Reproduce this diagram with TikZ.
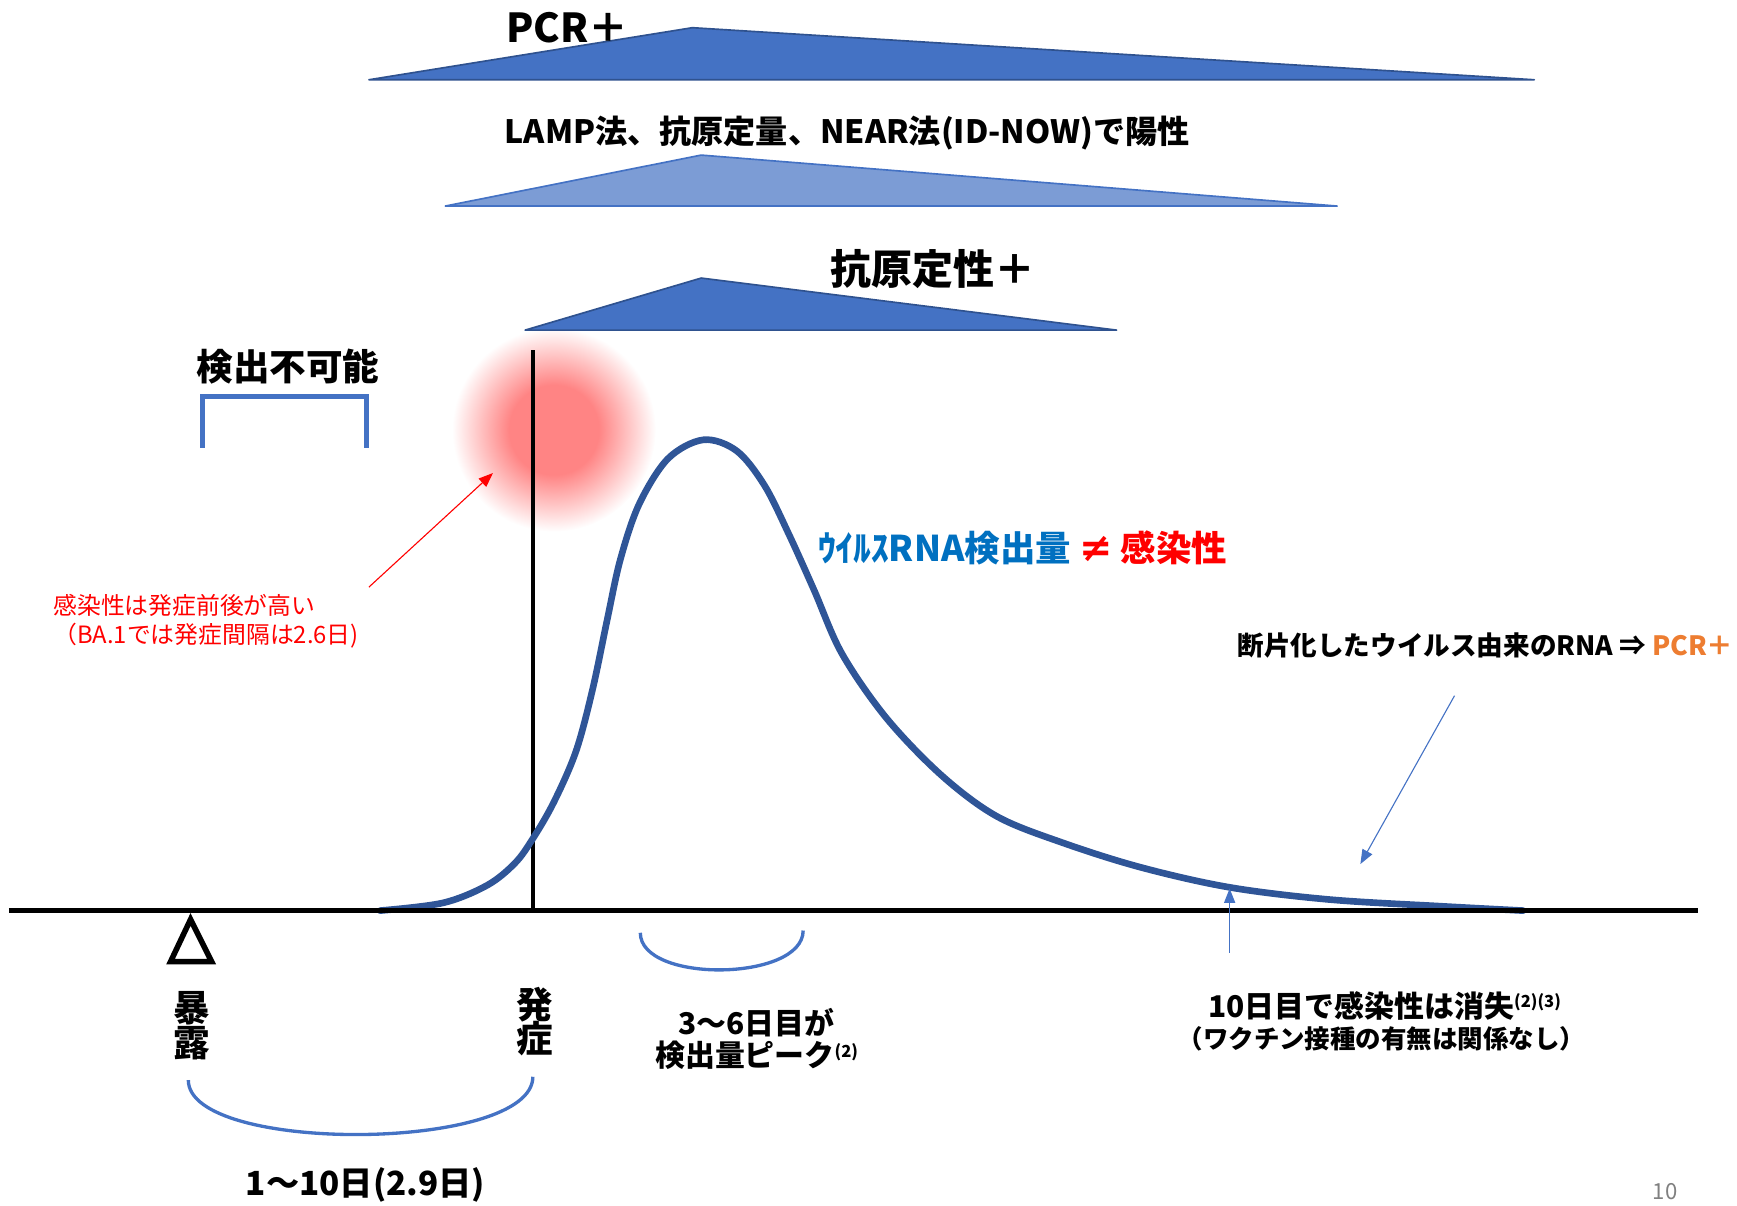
\documentclass[tikz,border=0pt]{standalone}
\usepackage{fontspec}
\setmainfont{Noto Sans CJK JP}
\newfontfamily\djv{DejaVu Sans}
\usetikzlibrary{arrows.meta}
\definecolor{triblue}{RGB}{68,114,196}
\definecolor{triedge}{RGB}{47,82,143}
\definecolor{trilight}{RGB}{124,156,213}
\definecolor{curveblue}{RGB}{47,85,151}
\definecolor{txtblue}{RGB}{0,112,192}
\definecolor{txtred}{RGB}{255,0,0}
\definecolor{txtorange}{RGB}{237,125,49}
\definecolor{glowc}{RGB}{255,132,132}
\pgfdeclareradialshading{glow}{\pgfpointorigin}{color(0bp)=(glowc); color(11bp)=(glowc); color(25bp)=(white); color(50bp)=(white)}
\tikzset{
  tri/.style={fill=triblue, draw=triedge, line width=1.5pt, line join=round},
  trilt/.style={fill=trilight, draw=triblue, line width=1.5pt, line join=round},
  bluebar/.style={draw=triblue, line width=3pt},
  thinarrow/.style={-{Triangle[length=13pt,width=10pt]}, line width=1pt},
  lbl/.style={inner sep=0pt, font=\bfseries},
}
\newcommand{\fs}[1]{\fontsize{#1}{#1}\selectfont}
\begin{document}
\begin{tikzpicture}[x=1pt,y=-1pt]
\clip (0,0) rectangle (1568,1088);
\useasboundingbox (0,0) rectangle (1568,1088);
% glow
\shade[shading=glow] (500,388) circle (92);
% triangles
\draw[tri] (333,72) -- (625,25) -- (1385,72) -- cycle;
\draw[trilt] (402,186) -- (633,140) -- (1207,186) -- cycle;
\draw[tri] (474,298) -- (633,251) -- (1008,298) -- cycle;
% texts top
\node[lbl, font=\bfseries\fs{36}] (pcr) at (512,25) {PCR＋};
\node[lbl, font=\bfseries\fs{29}] (lamp) at (765,120) {LAMP法、抗原定量、NEAR法(ID-NOW)で陽性};
\node[lbl, font=\bfseries\fs{37}] (qual) at (842,243) {抗原定性＋};
\node[lbl, font=\bfseries\fs{33}] (undet) at (260,331) {検出不可能};
% bracket
\draw[bluebar, line width=4.5pt] (183,404) -- (183,358) -- (331,358) -- (331,404);
% onset line
\draw[line width=3pt] (481,316) -- (481,822);
% curve
\draw[curveblue, line width=6pt, line cap=round] plot[smooth, tension=0.55] coordinates {
(343,822) (400,815) (440,799) (465,779) (481,757) (500,724) (520,678) (535,622) (548,560) (560,505) (577,455) (603,414) (635,397) (665,407) (690,438) (712,482) (735,533) (760,590) (800,648) (850,700) (900,737) (960,761) (1030,783) (1110,801) (1200,812) (1300,818) (1375,822)};
% axis
\draw[line width=4pt] (8,822) -- (1533,822);
% exposure marker
\draw[line width=5pt, line join=miter, fill=white] (172,830) -- (191,868) -- (154,868) -- cycle;
\node[lbl, font=\bfseries\fs{33}, align=center] (expo) at (173,926) {暴\\[-2pt]露};
\node[lbl, font=\bfseries\fs{33}, align=center] (onset) at (483,922) {発\\[-2pt]症};
% arcs
\draw[bluebar] (170,975) .. controls (170,1042) and (481,1040) .. (481,972);
\draw[bluebar] (578,842) .. controls (578,888) and (725,886) .. (725,840);
\node[lbl, font=\bfseries\fs{30}] (incub) at (330,1070) {1〜10日(2.9日)};
\node[lbl, font=\bfseries\fs{27}, align=center] (peak) at (683,938) {3〜6日目が\\[2pt]検出量ピーク\raisebox{0.6ex}{\fs{15}(2)}};
% RNA vs infectivity
\node[lbl, font=\bfseries\fs{32}] (rna) at (923,495) {\textcolor{txtblue}{ｳｲﾙｽRNA検出量} \textcolor{txtred}{{\djv\bfseries\fs{36}≠} 感染性}};
% red note
\node[inner sep=0pt, anchor=west, align=left, text=txtred, font=\fs{21.5}] (note) at (48,561) {感染性は発症前後が高い\\[5pt]（BA.1では発症間隔は2.6日)};
\coordinate (ra1) at (333,530);
\coordinate (ra2) at (445,427);
\draw[thinarrow, txtred] (ra1) -- (ra2);
% fragment note
\node[lbl, font=\bfseries\fs{24}] (frag) at (1341,583) {断片化したウイルス由来のRNA ⇒ \textcolor{txtorange}{PCR＋}};
\coordinate (ba1) at (1313,628);
\coordinate (ba2) at (1228,780);
\draw[thinarrow, triblue] (ba1) -- (ba2);
\coordinate (ua1) at (1110,860);
\coordinate (ua2) at (1110,802);
\draw[thinarrow, triblue] (ua1) -- (ua2);
\node[lbl, font=\bfseries\fs{27}] (ten) at (1250,908) {10日目で感染性は消失\raisebox{0.6ex}{\fs{15}(2)(3)}};
\node[lbl, font=\bfseries\fs{23}] (vacc) at (1247,938) {（ワクチン接種の有無は関係なし）};
\node[inner sep=0pt, text=gray, font=\fs{20}] (pg) at (1503,1076) {10};
\end{tikzpicture}
\end{document}
